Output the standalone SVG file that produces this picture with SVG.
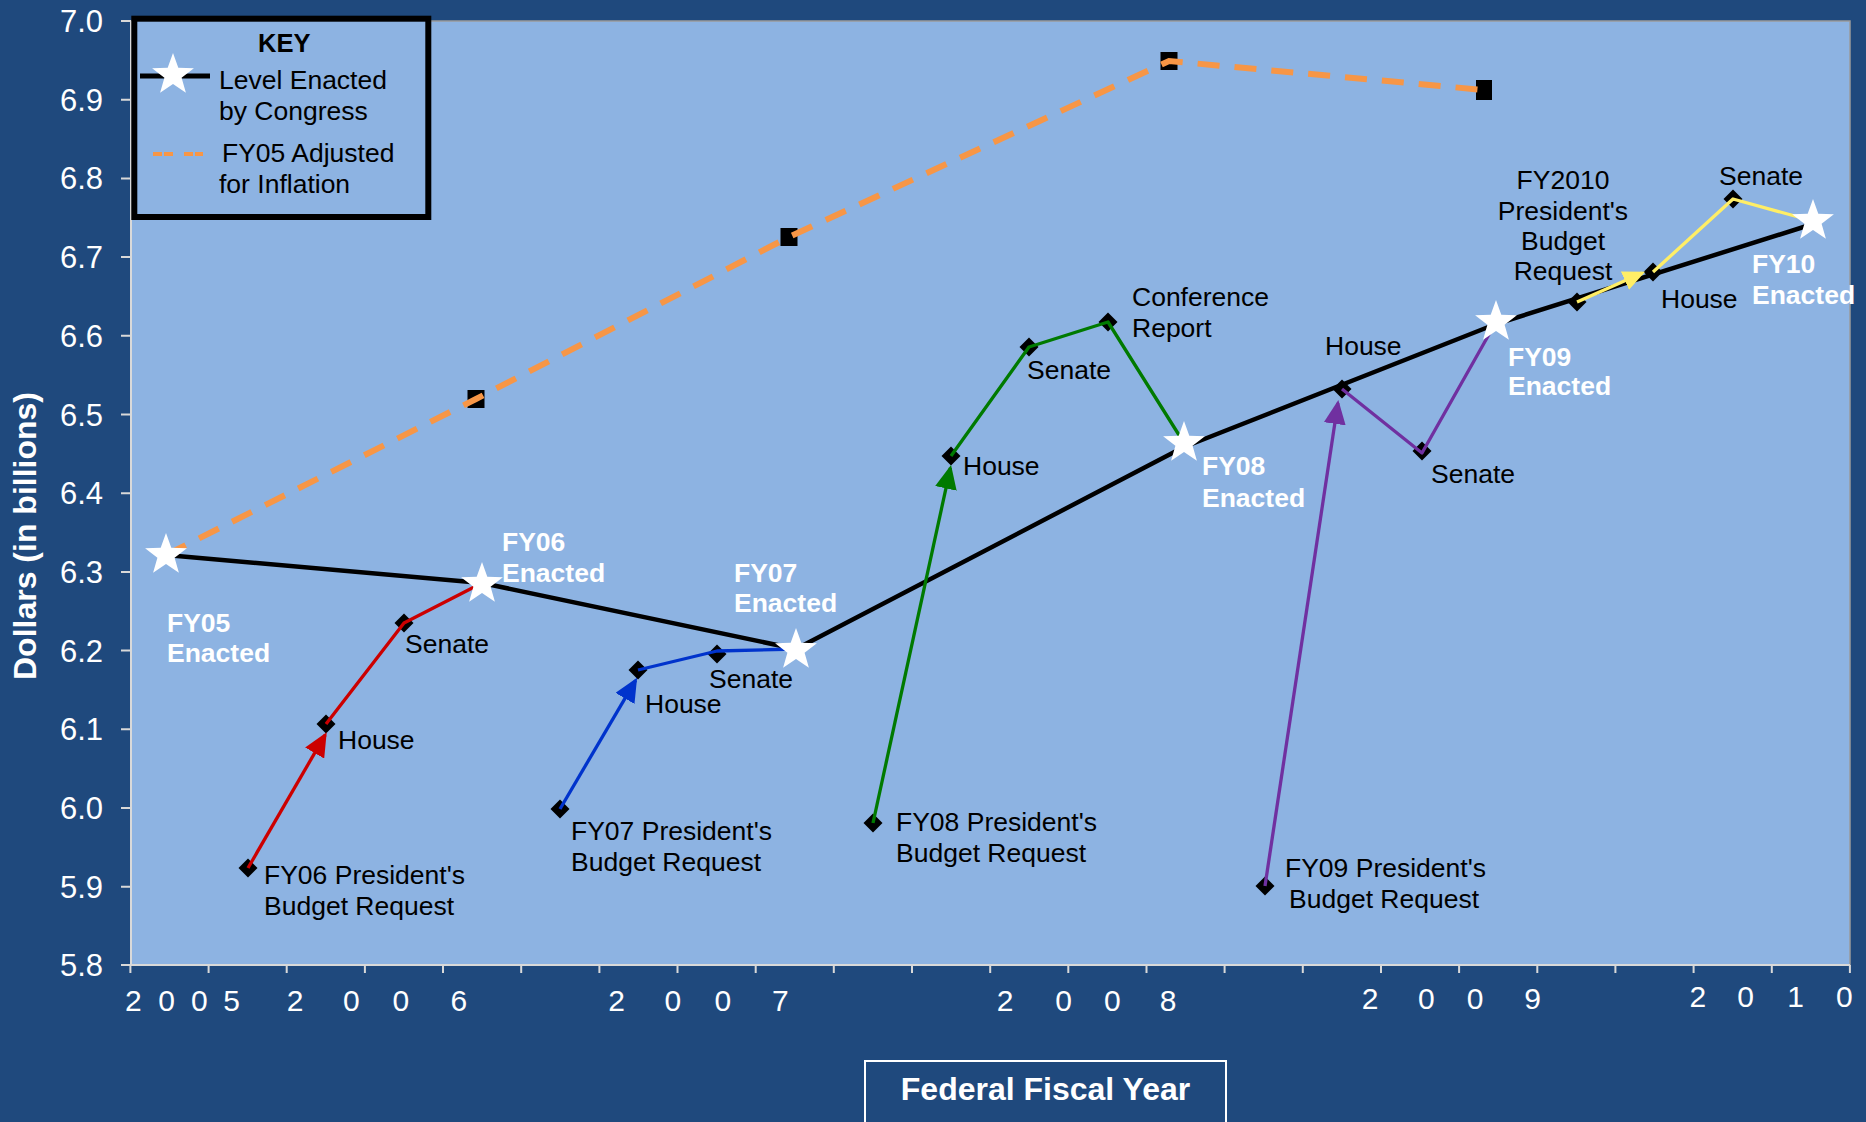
<svg xmlns="http://www.w3.org/2000/svg" xmlns:xlink="http://www.w3.org/1999/xlink" width="1866" height="1122" viewBox="0 0 1866 1122">
<style>
text { font-family: "Liberation Sans", Arial, sans-serif; }
.lbl { font-size: 26.5px; fill: #000000; }
.wl { font-size: 26.5px; font-weight: bold; fill: #FFFFFF; }
.tk { font-size: 30px; fill: #FFFFFF; }
.yt { font-size: 31px; fill: #FFFFFF; }
.dia { fill: #000000; }
.star { fill: #FFFFFF; }
.ser { fill: none; stroke-width: 3.3; stroke-linejoin: round; }
</style>
<defs>
<path id="st" d="M0,-22 L5.3,-7.3 L20.9,-6.8 L8.6,2.8 L12.9,17.8 L0,9 L-12.9,17.8 L-8.6,2.8 L-20.9,-6.8 L-5.3,-7.3 Z"/>
<path id="dm" d="M0,-9.5 L9.5,0 L0,9.5 L-9.5,0 Z"/>
<marker id="aR" markerUnits="userSpaceOnUse" markerWidth="24" markerHeight="22" refX="21" refY="11" orient="auto"><path d="M0,0 L24,11 L0,22 Z" fill="#CC0000"/></marker>
<marker id="aB" markerUnits="userSpaceOnUse" markerWidth="24" markerHeight="22" refX="21" refY="11" orient="auto"><path d="M0,0 L24,11 L0,22 Z" fill="#0033CC"/></marker>
<marker id="aG" markerUnits="userSpaceOnUse" markerWidth="24" markerHeight="22" refX="21" refY="11" orient="auto"><path d="M0,0 L24,11 L0,22 Z" fill="#007A00"/></marker>
<marker id="aP" markerUnits="userSpaceOnUse" markerWidth="24" markerHeight="22" refX="21" refY="11" orient="auto"><path d="M0,0 L24,11 L0,22 Z" fill="#7030A0"/></marker>
<marker id="aY" markerUnits="userSpaceOnUse" markerWidth="22" markerHeight="20" refX="19" refY="10" orient="auto"><path d="M0,0 L22,10 L0,20 Z" fill="#FFEE66"/></marker>
</defs>

<rect x="0" y="0" width="1866" height="1122" fill="#1F497D"/>
<rect id="plot" x="131" y="21" width="1719" height="944" fill="#8DB3E2" stroke="#9A9A9A" stroke-width="1.5"/>

<g id="axes" stroke="#D9D9D9" stroke-width="2" fill="none">
<path d="M131,21 V965 H1850"/>
<path d="M121,21 H131 M121,99.7 H131 M121,178.4 H131 M121,257.1 H131 M121,335.8 H131 M121,414.5 H131 M121,493.2 H131 M121,571.9 H131 M121,650.6 H131 M121,729.3 H131 M121,808 H131 M121,886.7 H131 M121,965 H131"/>
<path d="M130.4,965 v8 M208.6,965 v8 M286.7,965 v8 M364.9,965 v8 M443,965 v8 M521.2,965 v8 M599.4,965 v8 M677.5,965 v8 M755.7,965 v8 M833.8,965 v8 M912,965 v8 M990.2,965 v8 M1068.3,965 v8 M1146.5,965 v8 M1224.6,965 v8 M1302.8,965 v8 M1381,965 v8 M1459.1,965 v8 M1537.3,965 v8 M1615.4,965 v8 M1693.6,965 v8 M1771.8,965 v8 M1849.9,965 v8"/>
</g>

<g id="y-labels" class="yt" text-anchor="end">
<text x="103" y="32">7.0</text>
<text x="103" y="110.7">6.9</text>
<text x="103" y="189.4">6.8</text>
<text x="103" y="268.1">6.7</text>
<text x="103" y="346.8">6.6</text>
<text x="103" y="425.5">6.5</text>
<text x="103" y="504.2">6.4</text>
<text x="103" y="582.9">6.3</text>
<text x="103" y="661.6">6.2</text>
<text x="103" y="740.3">6.1</text>
<text x="103" y="819">6.0</text>
<text x="103" y="897.7">5.9</text>
<text x="103" y="976.4">5.8</text>
</g>

<g id="x-labels" class="tk" text-anchor="middle">
<text x="133.3 166.6 199.3 231.5" y="1011">2005</text>
<text x="295.2 351.4 400.8 458.8" y="1011">2006</text>
<text x="616.6 672.9 722.8 780.3" y="1011">2007</text>
<text x="1005 1063.6 1112.4 1168" y="1011">2008</text>
<text x="1370.1 1426.4 1475.2 1532.6" y="1008.5">2009</text>
<text x="1697.9 1745.6 1795.5 1844.3" y="1007">2010</text>
</g>

<text id="y-title" transform="translate(36,536) rotate(-90)" text-anchor="middle" font-size="32" font-weight="bold" fill="#FFFFFF">Dollars (in billions)</text>

<g id="x-title">
<rect x="865" y="1061" width="361" height="80" fill="none" stroke="#FFFFFF" stroke-width="2"/>
<text x="1045.5" y="1100" text-anchor="middle" font-size="32" font-weight="bold" fill="#FFFFFF">Federal Fiscal Year</text>
</g>

<g id="inflation-markers" fill="#000000">
<rect x="467.5" y="390" width="17" height="18"/>
<rect x="780.5" y="228" width="17" height="18"/>
<rect x="1160.5" y="52" width="17" height="18"/>
<rect x="1476" y="80" width="16" height="20"/>
</g>

<g id="connectors">
<polyline id="inflation" points="166,555 476,399 789,237 1169,61 1484,90" fill="none" stroke="#F79646" stroke-width="6" stroke-dasharray="22 15"/>
<polyline id="enacted" points="166,555 482,583 796,649 1184,447 1496,324 1813,224" fill="none" stroke="#000000" stroke-width="4.5" stroke-linejoin="round"/>
</g>

<g id="diamonds">
<use xlink:href="#dm" class="dia" x="248" y="868"/>
<use xlink:href="#dm" class="dia" x="326" y="724"/>
<use xlink:href="#dm" class="dia" x="404" y="623"/>
<use xlink:href="#dm" class="dia" x="560" y="809"/>
<use xlink:href="#dm" class="dia" x="638" y="670"/>
<use xlink:href="#dm" class="dia" x="717" y="654"/>
<use xlink:href="#dm" class="dia" x="873" y="823"/>
<use xlink:href="#dm" class="dia" x="951" y="456"/>
<use xlink:href="#dm" class="dia" x="1029" y="347"/>
<use xlink:href="#dm" class="dia" x="1108" y="322"/>
<use xlink:href="#dm" class="dia" x="1265" y="886"/>
<use xlink:href="#dm" class="dia" x="1342" y="389"/>
<use xlink:href="#dm" class="dia" x="1422" y="451"/>
<use xlink:href="#dm" class="dia" x="1577" y="302"/>
<use xlink:href="#dm" class="dia" x="1653" y="272"/>
<use xlink:href="#dm" class="dia" x="1733" y="199"/>
</g>

<g id="series-connectors">
<path class="ser" stroke="#CC0000" d="M248,868 L325.2,734.9" marker-end="url(#aR)"/>
<polyline class="ser" stroke="#CC0000" points="326,724 404,623 482,583"/>
<path class="ser" stroke="#0033CC" d="M560,809 L635.6,680.3" marker-end="url(#aB)"/>
<polyline class="ser" stroke="#0033CC" points="638,670 717,651 796,649"/>
<path class="ser" stroke="#007A00" d="M873,823 L950.4,467.9" marker-end="url(#aG)"/>
<polyline class="ser" stroke="#007A00" points="951,456 1029,347 1108,322 1184,443"/>
<path class="ser" stroke="#7030A0" stroke-width="3.6" d="M1265,886 L1337.9,403" marker-end="url(#aP)"/>
<polyline class="ser" stroke="#7030A0" stroke-width="3.6" points="1342,389 1422,453 1496,322"/>
<path class="ser" stroke="#FFEE66" stroke-width="3.6" d="M1577,302 L1642.3,272.9" marker-end="url(#aY)"/>
<polyline class="ser" stroke="#FFEE66" stroke-width="3.6" points="1653,272 1733,199 1813,221"/>
</g>

<g id="stars">
<use xlink:href="#st" class="star" x="166" y="555"/>
<use xlink:href="#st" class="star" x="482" y="584"/>
<use xlink:href="#st" class="star" x="796" y="650"/>
<use xlink:href="#st" class="star" x="1184" y="443"/>
<use xlink:href="#st" class="star" x="1496" y="322"/>
<use xlink:href="#st" class="star" x="1813" y="221"/>
</g>

<g id="enacted-labels" class="wl">
<text x="167" y="632">FY05</text><text x="167" y="662">Enacted</text>
<text x="502" y="551">FY06</text><text x="502" y="582">Enacted</text>
<text x="734" y="582">FY07</text><text x="734" y="612">Enacted</text>
<text x="1202" y="475">FY08</text><text x="1202" y="507">Enacted</text>
<text x="1508" y="366">FY09</text><text x="1508" y="395">Enacted</text>
<text x="1752" y="273">FY10</text><text x="1752" y="304">Enacted</text>
</g>

<g id="step-labels" class="lbl">
<text x="264" y="884">FY06 President's</text><text x="264" y="915">Budget Request</text>
<text x="338" y="749">House</text>
<text x="405" y="653">Senate</text>
<text x="571" y="840">FY07 President's</text><text x="571" y="871">Budget Request</text>
<text x="645" y="713">House</text>
<text x="709" y="688">Senate</text>
<text x="896" y="831">FY08 President's</text><text x="896" y="862">Budget Request</text>
<text x="963" y="475">House</text>
<text x="1027" y="379">Senate</text>
<text x="1132" y="306">Conference</text><text x="1132" y="337">Report</text>
<text x="1285" y="877">FY09 President's</text><text x="1289" y="908">Budget Request</text>
<text x="1325" y="355">House</text>
<text x="1431" y="483">Senate</text>
<g text-anchor="middle">
<text x="1563" y="189">FY2010</text>
<text x="1563" y="220">President's</text>
<text x="1563" y="250">Budget</text>
<text x="1563" y="280">Request</text>
</g>
<text x="1661" y="308">House</text>
<text x="1719" y="185">Senate</text>
</g>

<g id="legend">
<rect x="134.3" y="18.7" width="294" height="198.3" fill="#8DB3E2" stroke="#000000" stroke-width="6"/>
<text x="258" y="52" font-size="25.5" font-weight="bold" fill="#000000">KEY</text>
<line x1="140" y1="76" x2="210" y2="76" stroke="#000000" stroke-width="5"/>
<use xlink:href="#st" class="star" x="173" y="75"/>
<text class="lbl" x="219" y="89">Level Enacted</text>
<text class="lbl" x="219" y="120">by Congress</text>
<line x1="153" y1="154" x2="203" y2="154" stroke="#F79646" stroke-width="4" stroke-dasharray="9 2 9 11"/>
<text class="lbl" x="222" y="162">FY05 Adjusted</text>
<text class="lbl" x="219" y="193">for Inflation</text>
</g>
</svg>
